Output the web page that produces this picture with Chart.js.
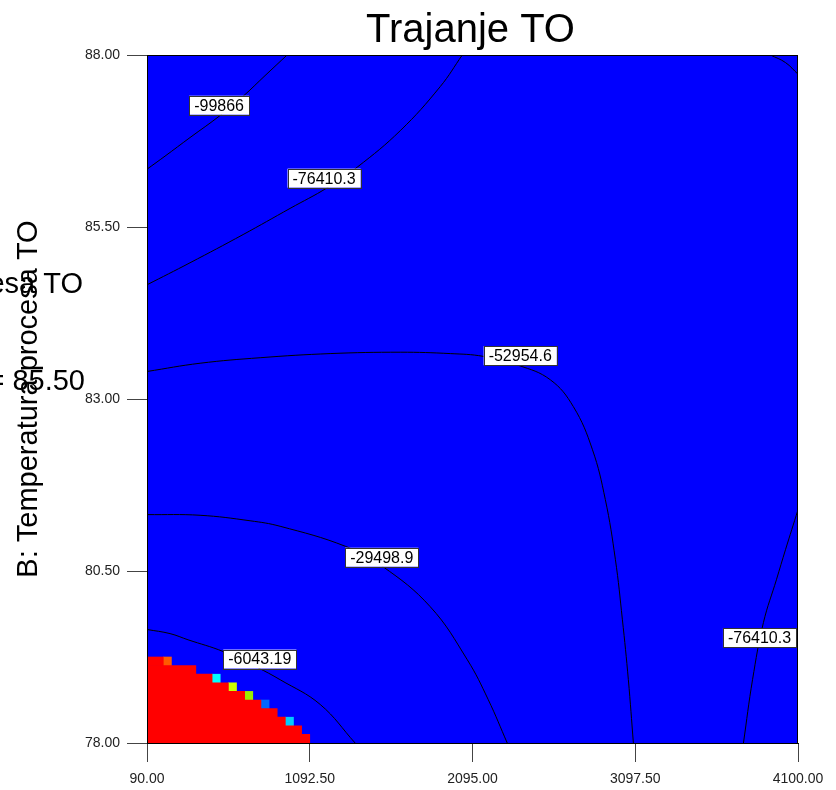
<!DOCTYPE html>
<html lang="en">
<head>
  <meta charset="UTF-8">
  <title>Trajanje TO</title>
  <script src="https://cdn.jsdelivr.net/npm/chart.js"></script>
  <style>
    body { margin: 0; background: #fff; }
    #wrap { width: 836px; height: 790px; position: relative; }
  </style>
</head>
<body>
  <div id="wrap"><canvas id="contourChart"></canvas></div>

  <script>
    // axis ticks
    const xTicks = [90, 1092.5, 2095, 3097.5, 4100];
    const yTicks = [78, 80.5, 83, 85.5, 88];

    // contour lines
    const line99866 = [
      {x: 90, y: 86.34}, {x: 201, y: 86.53}, {x: 355, y: 86.80}, {x: 540, y: 87.12},
      {x: 682, y: 87.40}, {x: 817, y: 87.70}, {x: 953, y: 88.0}
    ];
    const line76410top = [
      {x: 90, y: 84.66}, {x: 355, y: 84.98}, {x: 682, y: 85.39}, {x: 971, y: 85.77},
      {x: 1200, y: 86.07}, {x: 1385, y: 86.37}, {x: 1650, y: 86.90}, {x: 1896, y: 87.54},
      {x: 2032, y: 88.0}
    ];
    const line76410corner = [
      {x: 3930, y: 88.0}, {x: 4023, y: 87.89}, {x: 4100, y: 87.72}
    ];
    const line52954 = [
      {x: 90, y: 83.40}, {x: 417, y: 83.52}, {x: 787, y: 83.60}, {x: 1218, y: 83.66},
      {x: 1650, y: 83.68}, {x: 1958, y: 83.66}, {x: 2161, y: 83.62}, {x: 2377, y: 83.49},
      {x: 2574, y: 83.28}, {x: 2716, y: 82.89}, {x: 2833, y: 82.27}, {x: 2913, y: 81.54},
      {x: 2975, y: 80.67}, {x: 3018, y: 79.80}, {x: 3055, y: 78.92}, {x: 3086, y: 78.0}
    ];
    const line29498 = [
      {x: 90, y: 81.32}, {x: 417, y: 81.31}, {x: 725, y: 81.23}, {x: 910, y: 81.15},
      {x: 1311, y: 80.86}, {x: 1539, y: 80.57}, {x: 1835, y: 79.98}, {x: 2063, y: 79.21},
      {x: 2192, y: 78.63}, {x: 2309, y: 78.0}
    ];
    const line6043 = [
      {x: 90, y: 79.65}, {x: 232, y: 79.59}, {x: 343, y: 79.50}, {x: 559, y: 79.33},
      {x: 768, y: 79.10}, {x: 910, y: 78.92}, {x: 1157, y: 78.56}, {x: 1372, y: 78.0}
    ];
    const line76410right = [
      {x: 4100, y: 81.39}, {x: 4023, y: 80.81}, {x: 3968, y: 80.38}, {x: 3887, y: 79.75},
      {x: 3820, y: 78.92}, {x: 3764, y: 78.0}
    ];

    // contour labels
    const labelText = ['-99866', '-76410.3', '-52954.6', '-29498.9', '-6043.19', '-76410.3'];
    const labelX = [534, 1181, 2389, 1536, 785, 3863];
    const labelY = [87.27, 86.21, 83.63, 80.70, 79.22, 79.53];

    // red region, one row per grid row from the bottom
    const redRowY = [78.0625, 78.1875, 78.3125, 78.4375, 78.5625, 78.6875, 78.8125, 78.9375, 79.0625, 79.1875];
    const redRowEnd = [1092.5, 1042.4, 942.1, 892.0, 791.8, 691.5, 591.3, 491.0, 390.8, 190.3];

    // odd coloured cells on the edge of the red region
    const cellY = [79.1875, 78.9375, 78.8125, 78.6875, 78.5625, 78.3125];
    const cellX0 = [190.3, 491.0, 591.3, 691.5, 791.8, 942.1];
    const cellX1 = [240.4, 541.1, 641.4, 741.6, 841.9, 992.3];
    const cellColor = ['#ff5a00', '#00ffff', '#ccff00', '#99ee00', '#0066ff', '#00ccff'];

    const FONT = '"Liberation Sans", Arial, sans-serif';

    const contourLine = (data) => ({
      type: 'line',
      data: data,
      borderColor: '#000',
      borderWidth: 1,
      pointRadius: 0,
      tension: 0.4,
      fill: false
    });

    const decorations = {
      id: 'decorations',
      beforeDatasetsDraw(chart) {
        const { ctx, chartArea: a } = chart;
        ctx.save();
        ctx.fillStyle = '#0000ff';
        ctx.fillRect(a.left, a.top, a.right - a.left, a.bottom - a.top);
        ctx.restore();
      },
      afterDatasetsDraw(chart) {
        const { ctx, chartArea: a, scales } = chart;
        ctx.save();
        ctx.font = '16px ' + FONT;
        ctx.textAlign = 'center';
        ctx.textBaseline = 'middle';
        labelText.forEach((t, i) => {
          const px = scales.x.getPixelForValue(labelX[i]);
          const py = scales.y.getPixelForValue(labelY[i]);
          const w = ctx.measureText(t).width + 10;
          const h = 19;
          ctx.fillStyle = '#fff';
          ctx.fillRect(px - w / 2, py - h / 2, w, h);
          ctx.strokeStyle = '#333';
          ctx.lineWidth = 1;
          ctx.strokeRect(Math.round(px - w / 2) + 0.5, Math.round(py - h / 2) + 0.5, Math.round(w), h);
          ctx.fillStyle = '#000';
          ctx.fillText(t, px, py + 1);
        });

        // frame
        ctx.strokeStyle = '#000';
        ctx.lineWidth = 1;
        ctx.strokeRect(a.left + 0.5, a.top + 0.5, a.right - a.left - 1, a.bottom - a.top);

        // title
        ctx.fillStyle = '#000';
        ctx.font = '40px ' + FONT;
        ctx.textAlign = 'center';
        ctx.textBaseline = 'alphabetic';
        ctx.fillText('Trajanje TO', (a.left + a.right) / 2 - 2, 42);

        // stray factor text on the left, partly off the canvas
        ctx.font = '29px ' + FONT;
        ctx.textAlign = 'right';
        ctx.fillText('Temperatura procesa TO', 83, 293);
        ctx.fillText('B = 85.50', 85, 390);

        // y axis title
        ctx.translate(37, (a.top + a.bottom) / 2);
        ctx.rotate(-Math.PI / 2);
        ctx.textAlign = 'center';
        ctx.fillText('B: Temperatura procesa TO', 0, 0);
        ctx.restore();
      }
    };

    const ctx = document.getElementById('contourChart').getContext('2d');
    new Chart(ctx, {
      type: 'scatter',
      data: {
        datasets: [
          {
            type: 'bar',
            indexAxis: 'y',
            data: redRowY.map((y, i) => ({ x: [90, redRowEnd[i]], y: y })),
            backgroundColor: '#ff0000',
            barPercentage: 1,
            categoryPercentage: 1,
            grouped: false,
            borderWidth: 0
          },
          {
            type: 'bar',
            indexAxis: 'y',
            data: cellY.map((y, i) => ({ x: [cellX0[i], cellX1[i]], y: y })),
            backgroundColor: cellColor,
            barPercentage: 1,
            categoryPercentage: 1,
            grouped: false,
            borderWidth: 0
          },
          contourLine(line99866),
          contourLine(line76410top),
          contourLine(line76410corner),
          contourLine(line52954),
          contourLine(line29498),
          contourLine(line6043),
          contourLine(line76410right)
        ]
      },
      options: {
        responsive: true,
        maintainAspectRatio: false,
        animation: false,
        events: [],
        layout: { padding: { top: 55, right: 38, left: 0, bottom: 0 } },
        plugins: {
          legend: { display: false },
          tooltip: { enabled: false },
          title: { display: false }
        },
        scales: {
          x: {
            type: 'linear',
            min: 90,
            max: 4100,
            offset: false,
            afterBuildTicks: s => { s.ticks = xTicks.map(v => ({ value: v })); },
            afterFit: s => { s.height = 47; },
            ticks: {
              autoSkip: false,
              maxRotation: 0,
              padding: 9,
              color: '#222',
              font: { family: FONT, size: 14 },
              callback: v => Number(v).toFixed(2)
            },
            grid: { offset: false, drawOnChartArea: false, tickLength: 19, tickColor: '#444', tickWidth: 1 },
            border: { display: true, color: '#000', width: 1 }
          },
          y: {
            type: 'linear',
            min: 78,
            max: 88,
            offset: false,
            afterBuildTicks: s => { s.ticks = yTicks.map(v => ({ value: v })); },
            afterFit: s => { s.width = 147; },
            ticks: {
              autoSkip: false,
              padding: 7,
              color: '#222',
              font: { family: FONT, size: 14 },
              callback: v => Number(v).toFixed(2)
            },
            grid: { offset: false, drawOnChartArea: false, tickLength: 20, tickColor: '#444', tickWidth: 1 },
            border: { display: true, color: '#000', width: 1 }
          }
        }
      },
      plugins: [decorations]
    });
  </script>
</body>
</html>
